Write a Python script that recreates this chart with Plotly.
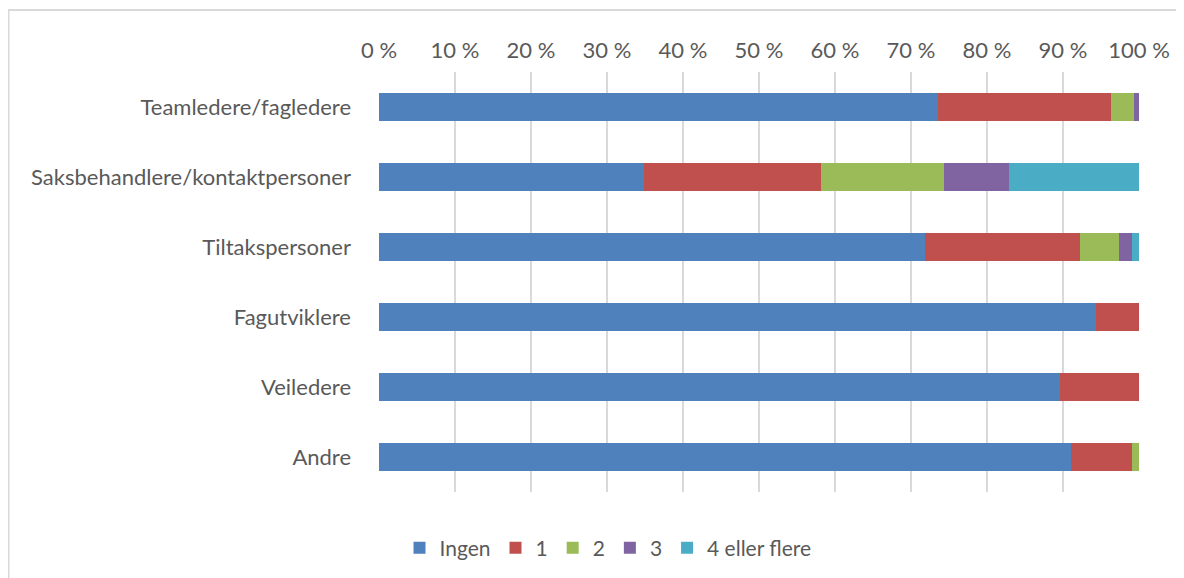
import plotly.graph_objects as go

categories = ["Teamledere/fagledere", "Saksbehandlere/kontaktpersoner", "Tiltakspersoner",
              "Fagutviklere", "Veiledere", "Andre"]
series_names = ["Ingen", "1", "2", "3", "4 eller flere"]
ingen = [73.5, 34.9, 71.8, 94.3, 89.6, 91.0]
en = [22.8, 23.3, 20.4, 5.7, 10.4, 8.1]
to = [3.1, 16.1, 5.2, 0.0, 0.0, 0.9]
tre = [0.6, 8.6, 1.7, 0.0, 0.0, 0.0]
fire = [0.0, 17.1, 0.9, 0.0, 0.0, 0.0]
colors = ["#4f81bd", "#c0504d", "#9bbb59", "#8064a2", "#4bacc6"]
tick_vals = [0, 10, 20, 30, 40, 50, 60, 70, 80, 90, 100]
tick_text = [f"{v} %" for v in tick_vals]

fig = go.Figure()
for name, vals, col in zip(series_names, [ingen, en, to, tre, fire], colors):
    fig.add_trace(go.Bar(
        y=categories, x=vals, name=name, orientation="h",
        marker=dict(color=col, line=dict(width=0)), width=0.4,
    ))

# page body has an 8px offset
L, R, T, B = 371, 53, 64, 94
W, H = 1184, 578
pw, ph = W - L - R, H - T - B
FONT = "Lato, Open Sans, sans-serif"

fig.update_layout(
    width=W, height=H, barmode="stack",
    margin=dict(l=L, r=R, t=T, b=B),
    plot_bgcolor="white", paper_bgcolor="white",
    font=dict(family=FONT, size=22, color="#595959"),
    xaxis=dict(range=[0, 100], side="top", tickvals=tick_vals, ticktext=tick_text,
               showgrid=True, gridcolor="#d9d9d9", gridwidth=2, zeroline=False,
               showline=False, ticks="", fixedrange=True, ticklabelstandoff=9),
    yaxis=dict(categoryorder="array", categoryarray=categories, autorange="reversed",
               showgrid=False, zeroline=False, showline=False, ticks="",
               ticklabelstandoff=27),
    legend=dict(orientation="h", x=(600 - L) / pw, xanchor="center",
                y=(T + ph - 540) / ph, yanchor="middle",
                font=dict(family=FONT, size=21, color="#595959"), traceorder="normal",
                itemwidth=30),
    shapes=[dict(type="rect", xref="paper", yref="paper",
                 x0=(0.5 - L) / pw, x1=(W + 20 - L) / pw,
                 y0=(T + ph - (H + 20)) / ph, y1=1 + (T - 2) / ph,
                 line=dict(color="#d9d9d9", width=2), fillcolor="rgba(0,0,0,0)",
                 layer="below")],
)

fig.write_html("out.html")
